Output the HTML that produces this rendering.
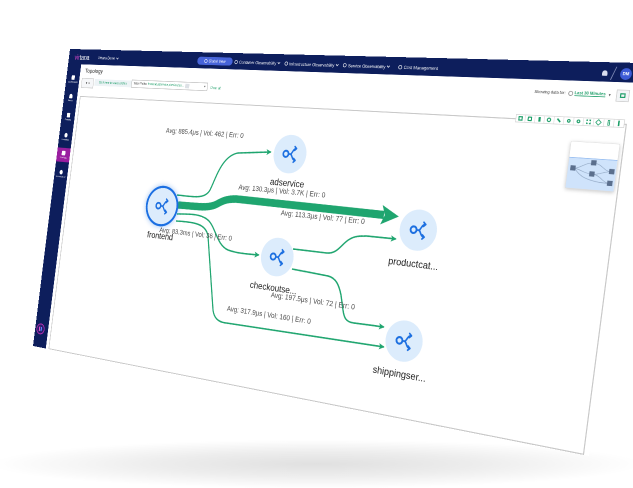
<!DOCTYPE html>
<html><head><meta charset="utf-8"><title>Topology</title>
<style>
html,body{margin:0;padding:0;width:633px;height:488px;overflow:hidden;background:#fff}
#stage{position:absolute;left:0;top:0;width:633px;height:488px;overflow:hidden;background:#fff;font-family:"Liberation Sans",Arial,sans-serif}
#floor{position:absolute;left:-10px;top:436px;width:653px;height:54px;background:radial-gradient(ellipse 50% 45% at 50% 52%,rgba(0,0,0,.12),rgba(0,0,0,.07) 50%,rgba(0,0,0,0) 100%)}
#scr{position:absolute;left:0;top:0;width:1920px;height:1000px;transform-origin:0 0;background:#fff;overflow:hidden}
#scr>*{position:absolute}
.pc{transform:translate(-50%,-50%);white-space:nowrap}
#nav{left:0;top:0;width:1920px;height:50px;background:#0d1e5c}
#side{left:0;top:0;width:58px;height:1000px;background:#0d1e5c}
.nt{color:#fff;font-size:13px;display:flex;align-items:center}
.ic{display:inline-block;width:8px;height:8px;border:2px solid #fff;border-radius:50%;margin-right:5px}
.chev{display:inline-block;width:5px;height:5px;border-right:2px solid #fff;border-bottom:2px solid #fff;transform:rotate(45deg);margin-left:6px;margin-top:-4px}
.sbi{width:58px;text-align:center;color:#fff;font-size:8px;line-height:1.1}
.sbi i{display:block;width:14px;height:15px;margin:0 auto 3px;background:#fff;border-radius:2px}
#panel{border:3px solid #c9c9c9;box-sizing:border-box;background:#fff}
.node{width:114px;height:114px;border-radius:50%;background:#dcecfc;display:flex;align-items:center;justify-content:center}
.node.sel{box-shadow:0 0 0 7px #1b6fe2,0 0 16px 10px rgba(27,111,226,.30)}
.nl{font-size:28px;color:#222}
.el{font-size:22px;color:#4a4a4a}
.tb{display:flex;border:2px solid #d8d8d8;background:#fff;box-sizing:border-box}
.tb div{flex:1;border-left:2px solid #e2e2e2;display:flex;align-items:center;justify-content:center}
.tb div:first-child{border-left:none}
.tb span{display:block;width:12px;height:12px;border:3px solid #1d9e68;box-sizing:border-box}
</style></head><body>
<div id="stage">
<div id="floor"></div>
<div id="scr">
  <div id="nav"></div>
  <div id="side"></div>

  <div class="pc nt" style="--ix:82;--iy:57.3;font-size:23px;letter-spacing:-0.5px"><span style="color:#d447c8">vir</span>tana</div>
  <div class="pc nt" style="--ix:108;--iy:58.3;font-size:12px">Virtana Demo<span class="chev"></span></div>
  <div class="bx nt" style="--x1:198;--y1:56.6;--x2:232;--y2:65.8;background:#4764d9;border-radius:14px;justify-content:center;font-size:12px"><span class="ic"></span>Global View</div>
  <div class="pc nt" style="--ix:257;--iy:62.6"><span class="ic"></span>Container Observability<span class="chev"></span></div>
  <div class="pc nt" style="--ix:311;--iy:64.3"><span class="ic"></span>Infrastructure Observability<span class="chev"></span></div>
  <div class="pc nt" style="--ix:366;--iy:66"><span class="ic"></span>Service Observability<span class="chev"></span></div>
  <div class="pc nt" style="--ix:418;--iy:67.6"><span class="ic"></span>Cost Management</div>
  <div class="pc" style="--ix:605;--iy:73;width:14px;height:14px;background:#d9def0;border-radius:7px 7px 2px 2px"></div>
  <div class="pc" style="--ix:613.5;--iy:73.4;width:2px;height:36px;background:#8b96c0;transform:translate(-50%,-50%) rotate(20deg)"></div>
  <div class="pc nt" style="--ix:626;--iy:74;width:30px;height:30px;border-radius:50%;background:#3d5bd6;justify-content:center;font-size:11px;font-weight:bold">DM</div>

  <div class="pc sbi" style="--ix:73;--iy:79.5"><i></i>Dashboards</div>
  <div class="pc sbi" style="--ix:70.6;--iy:98"><i style="border-radius:7px 7px 2px 2px"></i>Alerts</div>
  <div class="pc sbi" style="--ix:68.2;--iy:117"><i></i>Reports</div>
  <div class="pc sbi" style="--ix:65.7;--iy:137"><i style="border-radius:50%"></i>Inventory</div>
  <div class="pc sbi" style="--ix:63.4;--iy:155;background:#9a1fa0;padding:10px 0"><i style="width:16px;border-radius:3px"></i>Topology</div>
  <div class="pc sbi" style="--ix:61;--iy:174"><i style="border-radius:50%"></i>Governance</div>
  <div class="pc" style="--ix:40.5;--iy:329;width:30px;height:30px;border-radius:50%;border:3px solid #c42fb8;background:#2a1d6e;display:flex;align-items:center;justify-content:center"><span style="display:block;width:5px;height:14px;background:#e04fd0;margin-right:3px"></span><span style="display:block;width:5px;height:14px;background:#5a86ff"></span></div>

  <div class="pc" style="--ix:94;--iy:71.4;font-size:19px;color:#2b2b2b">Topology</div>
  <div class="bx" style="--x1:82;--y1:78;--x2:93;--y2:88.3;border:2px solid #c8c8c8;box-sizing:border-box;background:#f6f7f9;font-size:11px;color:#444;display:flex;align-items:center;justify-content:center">&#9660;&#160;&#9662;</div>
  <div class="bx" style="--x1:95;--y1:79;--x2:131;--y2:87.5;background:#edf3f6;font-size:10px;color:#1d9e68;display:flex;align-items:center;justify-content:center;white-space:nowrap;overflow:hidden">Click here to select entities</div>
  <div class="bx" style="--x1:132;--y1:79.5;--x2:207;--y2:91;border:2px solid #bdbdbd;box-sizing:border-box;background:#fff;font-size:10px;color:#333;display:flex;align-items:center;white-space:nowrap;overflow:hidden;padding-left:6px">Trace Paths:&#160;<span style="color:#1d9e68">frontend,adservice,checkoutse...</span><span style="display:inline-block;width:16px;height:14px;background:#dde1e6;margin-left:6px"></span><span style="margin-left:auto;margin-right:6px">&#9662;</span></div>
  <div class="pc" style="--ix:215.5;--iy:88.2;font-size:11px;color:#1d9e68">Clear all</div>

  <div class="pc" style="--ix:572;--iy:93.4;font-size:11px;color:#333;display:flex;align-items:center">Showing data for:&#160;<span style="display:inline-block;width:9px;height:9px;border:2px solid #888;border-radius:50%;margin:0 4px"></span><span style="color:#1d9e68;font-weight:bold;border-bottom:2px solid #1d9e68">Last 30 Minutes</span><span style="margin-left:8px;color:#555">&#9662;</span></div>
  <div class="bx" style="--x1:617;--y1:89.5;--x2:628.5;--y2:102;border:2px solid #d0d0d0;box-sizing:border-box;background:#f3f5f7;display:flex;align-items:center;justify-content:center"><span style="display:block;width:14px;height:12px;border:3px solid #1d9e68;box-sizing:border-box"></span></div>

  <div id="panel" class="bx" style="--x1:80;--y1:96;--x2:584;--y2:455"></div>

  <div class="bx tb" style="--x1:516;--y1:114;--x2:624;--y2:128">
    <div><span></span></div><div><span style="border-radius:2px"></span></div><div><span style="width:6px"></span></div><div><span style="border-radius:50%"></span></div><div><span style="transform:rotate(45deg);height:4px;border-width:2px"></span></div><div><span style="border-radius:50%;width:10px;height:10px"></span></div><div><span style="border-radius:50%;width:10px;height:10px"></span></div><div><span style="border-style:dotted"></span></div><div><span style="transform:rotate(45deg);border-width:2px"></span></div><div><span style="height:14px;width:6px;border-width:2px"></span></div><div><span style="height:14px;width:4px;border-width:2px"></span></div>
  </div>

  <div class="bx" style="--x1:571;--y1:141;--x2:613;--y2:191;background:#fff;border:1px solid #dedede;box-shadow:0 3px 10px rgba(0,0,0,.22)">
    <svg viewBox="0 0 100 100" preserveAspectRatio="none" width="100%" height="100%" style="display:block">
      <rect x="0" y="34" width="100" height="66" fill="#cfe3fb"/>
      <line x1="0" y1="34" x2="100" y2="34" stroke="#8fb8ef" stroke-width="1.5"/>
      <g stroke="#8ea4c0" stroke-width="1.2" fill="none">
        <path d="M12,57 C25,57 35,43 52,43"/>
        <path d="M12,57 C25,57 35,67 52,67"/>
        <path d="M52,43 C70,43 75,59 90,59"/>
        <path d="M52,67 C70,67 75,59 90,59"/>
        <path d="M52,67 C70,67 75,84 90,84"/>
        <path d="M12,57 C20,57 20,84 90,84"/>
      </g>
      <g fill="#5b6f8d">
        <rect x="5" y="51" width="11" height="11"/>
        <rect x="47" y="37" width="11" height="11"/>
        <rect x="46" y="61" width="11" height="11"/>
        <rect x="86" y="53" width="11" height="11"/>
        <rect x="85" y="78" width="11" height="11"/>
      </g>
    </svg>
  </div>

  <svg id="dg" width="1920" height="1000" style="left:0;top:0;overflow:visible">
    <defs>
      <marker id="ah" viewBox="0 0 10 10" refX="9" refY="5" markerWidth="4" markerHeight="4" orient="auto"><path d="M0,0 L10,5 L0,10 L2.5,5 z" fill="#1fa56f"/></marker>
      <marker id="ahT" viewBox="0 0 10 10" refX="1.5" refY="5" markerWidth="2.4" markerHeight="2.4" orient="auto"><path d="M0,0 L10,5 L0,10 L2,5 z" fill="#1fa56f"/></marker>
    </defs>
    <g fill="none" stroke="#1fa56f" stroke-width="4.5">
      <path class="ie" marker-end="url(#ah)" d="M177,195 C195,197 205,199 210,190 C216,178 222,156 238,153 L271,152"/>
      <path class="ie" marker-end="url(#ah)" d="M177,214 C192,214 202,214 209,221 C216,229 217,245 228,250 C236,253 246,254 259,255"/>
      <path class="ie" marker-end="url(#ah)" d="M176,221 C195,222 206,224 208,236 L213,310 C214,318 218,322 226,323 L384,347"/>
      <path class="ie" marker-end="url(#ah)" d="M293,249 L327,253 C338,254 342,243 350,239 C355,236 360,236 366,236 L396,239"/>
      <path class="ie" marker-end="url(#ah)" d="M292,269 L328,276 C336,278 339,285 341,295 L343,310 C344,318 346,322 354,323 L384,327"/>
      <path class="ie" marker-end="url(#ahT)" stroke-width="23" d="M178,205 C195,206 208,209 217,204 C224,200 228,199 236,199 L384,215"/>
    </g>
  </svg>

  <div class="pc node sel" style="--ix:162;--iy:206"><svg width="70" height="70" viewBox="0 0 100 100"><g fill="none" stroke="#1c6fe0" stroke-width="7" stroke-linecap="round" stroke-linejoin="round"><circle cx="30" cy="50" r="13" stroke-width="8"/><path d="M43,50 H52 C62,50 62,25 80,25 M52,50 C62,50 62,75 80,75 M71,17 L80,25 L71,33 M71,67 L80,75 L71,83"/></g></svg></div>
  <div class="pc node" style="--ix:290;--iy:154"><svg width="70" height="70" viewBox="0 0 100 100"><g fill="none" stroke="#1c6fe0" stroke-width="7" stroke-linecap="round" stroke-linejoin="round"><circle cx="30" cy="50" r="13" stroke-width="8"/><path d="M43,50 H52 C62,50 62,25 80,25 M52,50 C62,50 62,75 80,75 M71,17 L80,25 L71,33 M71,67 L80,75 L71,83"/></g></svg></div>
  <div class="pc node" style="--ix:418;--iy:230"><svg width="70" height="70" viewBox="0 0 100 100"><g fill="none" stroke="#1c6fe0" stroke-width="7" stroke-linecap="round" stroke-linejoin="round"><circle cx="30" cy="50" r="13" stroke-width="8"/><path d="M43,50 H52 C62,50 62,25 80,25 M52,50 C62,50 62,75 80,75 M71,17 L80,25 L71,33 M71,67 L80,75 L71,83"/></g></svg></div>
  <div class="pc node" style="--ix:277;--iy:257"><svg width="70" height="70" viewBox="0 0 100 100"><g fill="none" stroke="#1c6fe0" stroke-width="7" stroke-linecap="round" stroke-linejoin="round"><circle cx="30" cy="50" r="13" stroke-width="8"/><path d="M43,50 H52 C62,50 62,25 80,25 M52,50 C62,50 62,75 80,75 M71,17 L80,25 L71,33 M71,67 L80,75 L71,83"/></g></svg></div>
  <div class="pc node" style="--ix:404;--iy:341"><svg width="70" height="70" viewBox="0 0 100 100"><g fill="none" stroke="#1c6fe0" stroke-width="7" stroke-linecap="round" stroke-linejoin="round"><circle cx="30" cy="50" r="13" stroke-width="8"/><path d="M43,50 H52 C62,50 62,25 80,25 M52,50 C62,50 62,75 80,75 M71,17 L80,25 L71,33 M71,67 L80,75 L71,83"/></g></svg></div>

  <div class="pc nl" style="--ix:160;--iy:236">frontend</div>
  <div class="pc nl" style="--ix:287;--iy:183">adservice</div>
  <div class="pc nl" style="--ix:413;--iy:264">productcat...</div>
  <div class="pc nl" style="--ix:273;--iy:288">checkoutse...</div>
  <div class="pc nl" style="--ix:399;--iy:374">shippingser...</div>

  <div class="pc el" style="--ix:204;--iy:133">Avg: 885.4μs | Vol: 462 | Err: 0</div>
  <div class="pc el" style="--ix:281;--iy:191">Avg: 130.3μs | Vol: 3.7K | Err: 0</div>
  <div class="pc el" style="--ix:322;--iy:217">Avg: 113.3μs | Vol: 77 | Err: 0</div>
  <div class="pc el" style="--ix:195;--iy:234">Avg: 83.3ms | Vol: 36 | Err: 0</div>
  <div class="pc el" style="--ix:312;--iy:301">Avg: 197.5μs | Vol: 72 | Err: 0</div>
  <div class="pc el" style="--ix:268;--iy:315">Avg: 317.9μs | Vol: 160 | Err: 0</div>
</div>
</div>
<script>
(function(){
var W=1920,H=1000;
var TL=[70,49],TR=[640,63],BR=[589,456],BL=[33,346];
function adj(m){return [m[4]*m[8]-m[5]*m[7],m[2]*m[7]-m[1]*m[8],m[1]*m[5]-m[2]*m[4],m[5]*m[6]-m[3]*m[8],m[0]*m[8]-m[2]*m[6],m[2]*m[3]-m[0]*m[5],m[3]*m[7]-m[4]*m[6],m[1]*m[6]-m[0]*m[7],m[0]*m[4]-m[1]*m[3]];}
function mm(a,b){var c=[];for(var i=0;i<3;i++)for(var j=0;j<3;j++){var s=0;for(var k=0;k<3;k++)s+=a[3*i+k]*b[3*k+j];c[3*i+j]=s;}return c;}
function mv(m,v){return [m[0]*v[0]+m[1]*v[1]+m[2]*v[2],m[3]*v[0]+m[4]*v[1]+m[5]*v[2],m[6]*v[0]+m[7]*v[1]+m[8]*v[2]];}
function basis(p){var m=[p[0],p[2],p[4],p[1],p[3],p[5],1,1,1];var v=mv(adj(m),[p[6],p[7],1]);return mm(m,[v[0],0,0,0,v[1],0,0,0,v[2]]);}
function proj(s,d){return mm(basis(d),adj(basis(s)));}
var src=[0,0,W,0,0,H,W,H],dst=[TL[0],TL[1],TR[0],TR[1],BL[0],BL[1],BR[0],BR[1]];
var t=proj(src,dst);for(var i=0;i<9;i++)t[i]=t[i]/t[8];
var Ti=proj(dst,src);
function toFlat(x,y){var v=mv(Ti,[x,y,1]);return [v[0]/v[2],v[1]/v[2]];}
var scr=document.getElementById('scr');
scr.style.transform='matrix3d('+[t[0],t[3],0,t[6],t[1],t[4],0,t[7],0,0,1,0,t[2],t[5],0,t[8]].join(',')+')';
function gp(e,n){return parseFloat(e.style.getPropertyValue(n));}
var pcs=document.querySelectorAll('.pc');
for(var i=0;i<pcs.length;i++){var e=pcs[i];var p=toFlat(gp(e,'--ix'),gp(e,'--iy'));e.style.left=p[0]+'px';e.style.top=p[1]+'px';}
var bxs=document.querySelectorAll('.bx');
for(var i=0;i<bxs.length;i++){var e=bxs[i];var a=toFlat(gp(e,'--x1'),gp(e,'--y1')),b=toFlat(gp(e,'--x2'),gp(e,'--y2'));e.style.position='absolute';e.style.left=a[0]+'px';e.style.top=a[1]+'px';e.style.width=(b[0]-a[0])+'px';e.style.height=(b[1]-a[1])+'px';}
var ps=document.querySelectorAll('path.ie');
for(var i=0;i<ps.length;i++){var p=ps[i];var d=p.getAttribute('d').replace(/(-?[\d.]+),(-?[\d.]+)/g,function(m,a,b){var q=toFlat(+a,+b);return q[0].toFixed(1)+','+q[1].toFixed(1);});p.setAttribute('d',d);}
})();
</script>
</body></html>
